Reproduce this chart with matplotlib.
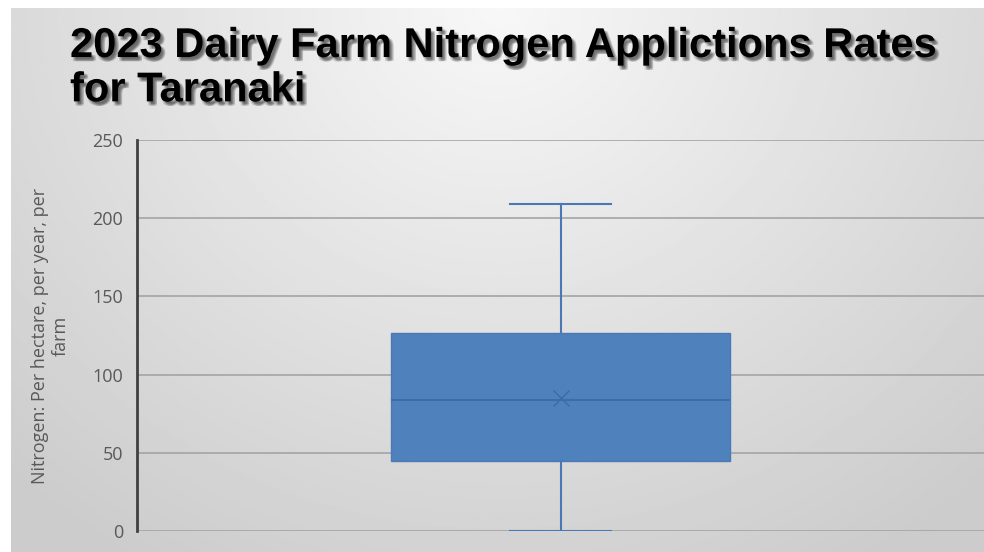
import numpy as np
import matplotlib
matplotlib.use("Agg")
import matplotlib.pyplot as plt
import matplotlib.patheffects as pe

# box summary
whisker_low = 0
q1 = 45
median = 84
mean = 85
q3 = 126.5
whisker_high = 209

y_ticks = [0, 50, 100, 150, 200, 250]
title = "2023 Dairy Farm Nitrogen Applictions Rates\nfor Taranaki"
y_label = "Nitrogen: Per hectare, per year, per\nfarm"

fig = plt.figure(figsize=(9.84, 5.52), dpi=100, facecolor="white")

# grey gradient background
bg = fig.add_axes([0.011, 0, 0.989, 0.986], zorder=-5)
gx, gy = np.meshgrid(np.linspace(-1, 1, 400), np.linspace(0, 1, 300))
r = np.sqrt((gx * 0.9) ** 2 + (gy * 1.1) ** 2)
shade = 0.97 - 0.17 * np.clip(r, 0, 1.3) / 1.3
bg.imshow(shade, cmap="gray", vmin=0, vmax=1, aspect="auto", origin="upper",
          extent=[0, 1, 0, 1])
bg.axis("off")

ax = fig.add_axes([137 / 984, 21 / 552, 1 - 137 / 984, 391 / 552])
ax.set_facecolor("none")

stats = [{"whislo": whisker_low, "q1": q1, "med": median, "mean": mean,
          "q3": q3, "whishi": whisker_high, "fliers": []}]
ax.bxp(stats, positions=[0.5], widths=0.4, capwidths=0.12, showmeans=True,
       patch_artist=True,
       boxprops=dict(facecolor="#4f81bd", edgecolor="#4a7ab5", linewidth=1),
       medianprops=dict(color="#3e6ca8", linewidth=1.5),
       whiskerprops=dict(color="#4a78b5", linewidth=1.5),
       capprops=dict(color="#4a78b5", linewidth=1.5),
       meanprops=dict(marker="x", markeredgecolor="#3e6ca8", markersize=11,
                      markeredgewidth=1))

ax.set_xlim(0, 1)
ax.set_ylim(0, 250)
ax.set_yticks(y_ticks)
ax.set_xticks([])
ax.yaxis.grid(True, color="#a4a4a4", linewidth=1.2)
ax.set_axisbelow(True)
for s in ["top", "right", "bottom"]:
    ax.spines[s].set_visible(False)
ax.spines["left"].set_color("#404040")
ax.spines["left"].set_linewidth(2)
ax.tick_params(axis="y", length=0, pad=10, labelsize=13, labelcolor="#595959")
for lab in ax.get_yticklabels():
    lab.set_family(["Open Sans", "DejaVu Sans"])
ax.set_ylabel(y_label, fontsize=13, color="#595959", family=["Open Sans", "DejaVu Sans"],
              labelpad=16)

# soft shadow under the title
shadow = [pe.SimplePatchShadow(offset=(dx, dy), shadow_rgbFace="#000000", alpha=0.12)
          for dx, dy in [(1, -1), (2, -2), (3, -3), (2, -3), (3, -2), (1, -3)]]
fig.text(70 / 984, 1 - 26 / 552, title, ha="left", va="top", fontsize=30,
         fontweight="bold", color="black", linespacing=1.14,
         family=["Liberation Sans", "DejaVu Sans"],
         path_effects=shadow + [pe.Normal()])

fig.savefig("out.png", dpi=100, facecolor=fig.get_facecolor())
